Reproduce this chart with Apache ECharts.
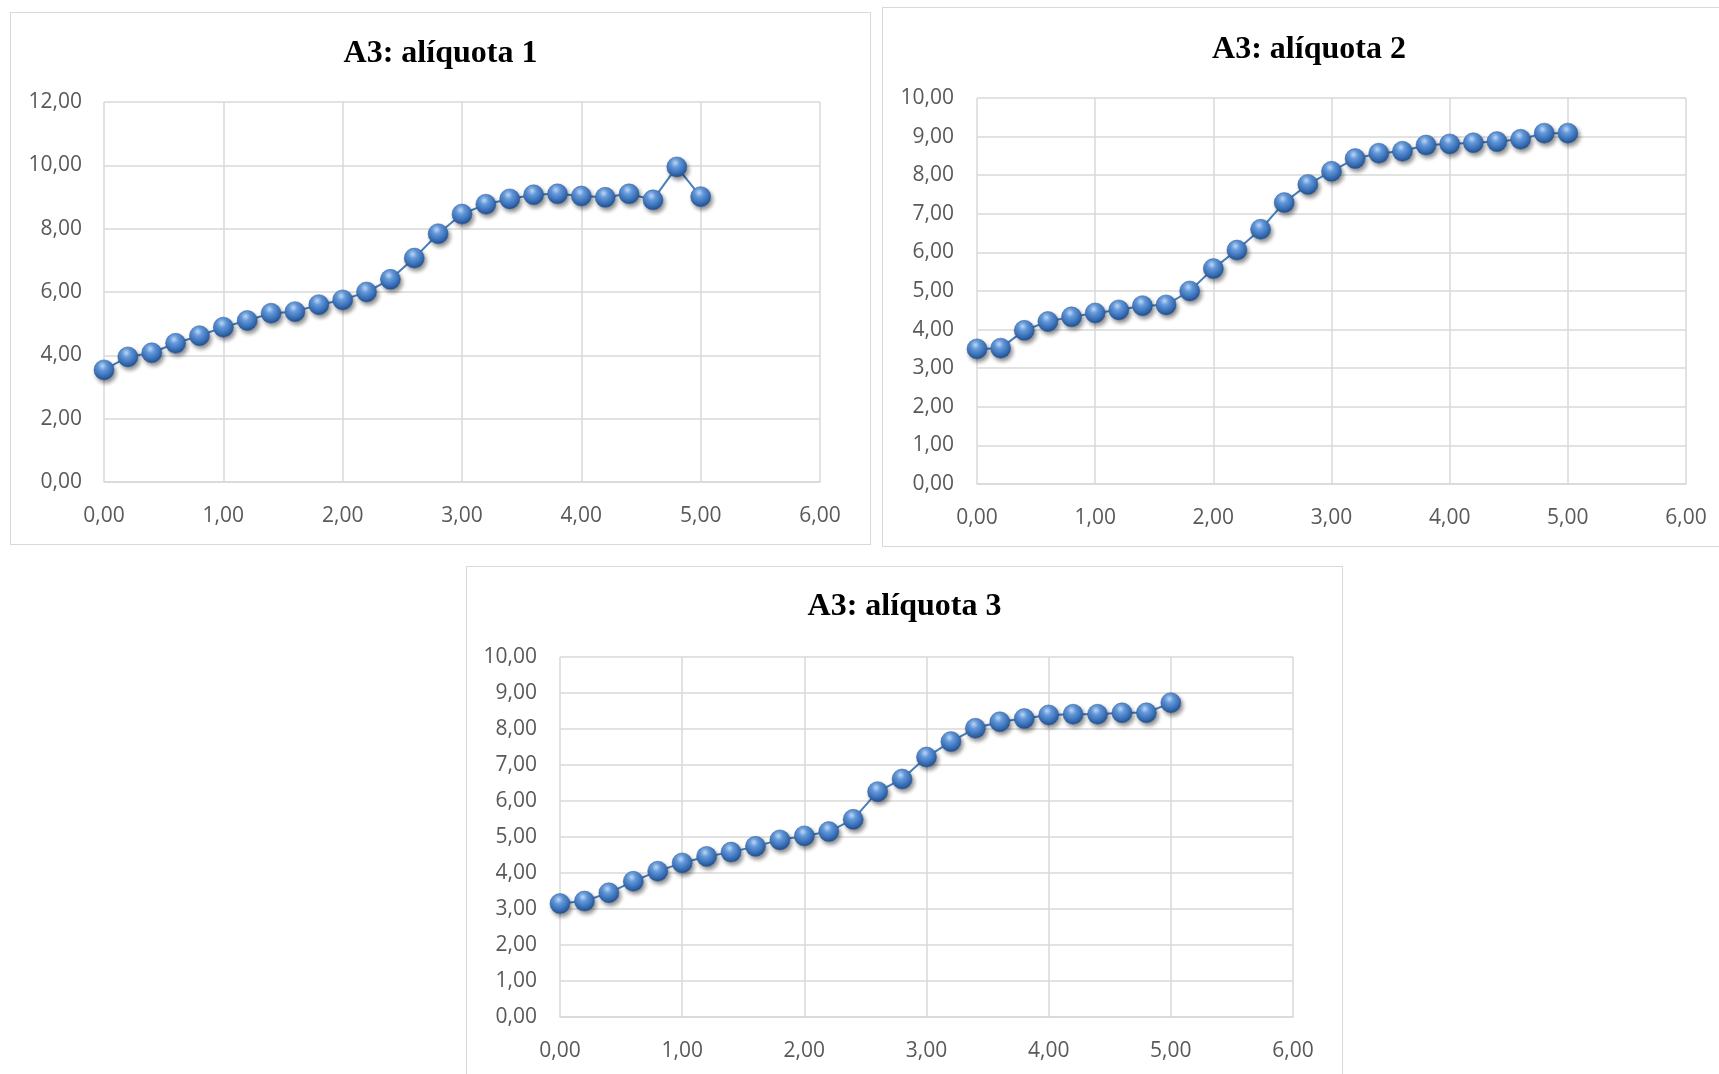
<!DOCTYPE html>
<html>
<head>
<meta charset="utf-8">
<script src="https://cdn.jsdelivr.net/npm/echarts@6/dist/echarts.min.js"></script>
<style>
  html, body { margin: 0; padding: 0; width: 1719px; height: 1074px; overflow: hidden; background: #ffffff; }
  .chart { position: absolute; }
  .frame { position: absolute; box-sizing: border-box; border: 1.5px solid #d9d9d9; pointer-events: none; }
</style>
</head>
<body>
<div class="chart" id="c1" style="left:10px;top:12px;width:861px;height:533px;"></div>
<div class="frame" style="left:10px;top:12px;width:861px;height:533px;"></div>
<div class="chart" id="c2" style="left:882px;top:7px;width:854px;height:540px;"></div>
<div class="frame" style="left:882px;top:7px;width:854px;height:540px;"></div>
<div class="chart" id="c3" style="left:466px;top:566px;width:877px;height:520px;"></div>
<div class="frame" style="left:466px;top:566px;width:877px;height:520px;"></div>
<script>
// ---- data ----
const titles = ['A3: alíquota 1', 'A3: alíquota 2', 'A3: alíquota 3'];
const xValues = [0.0, 0.2, 0.4, 0.6, 0.8, 1.0, 1.2, 1.4, 1.6, 1.8, 2.0, 2.2, 2.4,
                 2.6, 2.8, 3.0, 3.2, 3.4, 3.6, 3.8, 4.0, 4.2, 4.4, 4.6, 4.8, 5.0];
const aliquota1 = [3.54, 3.95, 4.08, 4.38, 4.62, 4.89, 5.10, 5.33, 5.38, 5.60, 5.75, 6.00, 6.40,
                   7.07, 7.84, 8.46, 8.77, 8.94, 9.07, 9.10, 9.03, 8.99, 9.10, 8.91, 9.95, 9.01];
const aliquota2 = [3.50, 3.52, 3.98, 4.21, 4.33, 4.43, 4.51, 4.62, 4.64, 5.00, 5.58, 6.06, 6.60,
                   7.29, 7.76, 8.10, 8.43, 8.57, 8.62, 8.78, 8.81, 8.84, 8.87, 8.93, 9.09, 9.09];
const aliquota3 = [3.15, 3.22, 3.45, 3.77, 4.05, 4.28, 4.46, 4.58, 4.74, 4.92, 5.03, 5.15, 5.49,
                   6.26, 6.61, 7.22, 7.65, 8.02, 8.20, 8.29, 8.39, 8.41, 8.41, 8.45, 8.45, 8.73];
const xTicks = { min: 0, max: 6, interval: 1 };
const yTicks1 = { min: 0, max: 12, interval: 2 };
const yTicks23 = { min: 0, max: 10, interval: 1 };

// ---- rendering ----
const fmt = v => v.toFixed(2).replace('.', ',');
const gridColor = '#d9d9d9';
const labelStyle = { color: '#595959', fontSize: 21, fontFamily: 'Open Sans, Liberation Sans, sans-serif' };

function makeOption(title, values, yTicks, grid, yMargin, xMargin) {
  return {
    animation: false,
    title: {
      text: title,
      left: 'center',
      top: grid.titleTop,
      textStyle: { fontFamily: 'Liberation Serif, Times New Roman, serif', fontWeight: 'bold', fontSize: 32, color: '#000000' }
    },
    grid: { left: grid.left, top: grid.top, width: grid.width, height: grid.height, containLabel: false },
    xAxis: {
      type: 'value', min: xTicks.min, max: xTicks.max, interval: xTicks.interval,
      axisLine: { show: true, lineStyle: { color: gridColor, width: 1.5 } },
      axisTick: { show: false },
      axisLabel: { ...labelStyle, margin: xMargin, formatter: fmt },
      splitLine: { show: true, lineStyle: { color: gridColor, width: 1.5 } }
    },
    yAxis: {
      type: 'value', min: yTicks.min, max: yTicks.max, interval: yTicks.interval,
      axisLine: { show: false },
      axisTick: { show: false },
      axisLabel: { ...labelStyle, margin: yMargin, formatter: fmt, padding: [4, 0, 0, 0] },
      splitLine: { show: true, lineStyle: { color: gridColor, width: 1.5 } }
    },
    series: [{
      type: 'line',
      data: xValues.map((x, i) => [x, values[i]]),
      symbol: 'circle',
      symbolSize: 20,
      lineStyle: { color: '#4a7ebb', width: 2 },
      itemStyle: {
        color: new echarts.graphic.RadialGradient(0.42, 0.3, 0.72, [
          { offset: 0, color: '#c4dcf8' },
          { offset: 0.3, color: '#639ade' },
          { offset: 0.78, color: '#3267ad' },
          { offset: 1, color: '#1f4a85' }
        ]),
        borderColor: '#2b5b9c',
        borderWidth: 0.5,
        shadowBlur: 4,
        shadowColor: 'rgba(0,0,0,0.45)',
        shadowOffsetX: 2,
        shadowOffsetY: 3
      }
    }]
  };
}

const c1 = echarts.init(document.getElementById('c1'));
c1.setOption(makeOption(titles[0], aliquota1, yTicks1,
  { left: 94, top: 90, width: 716, height: 380, titleTop: 21 }, 22, 24));
const c2 = echarts.init(document.getElementById('c2'));
c2.setOption(makeOption(titles[1], aliquota2, yTicks23,
  { left: 95, top: 91, width: 709, height: 386, titleTop: 22 }, 23, 24));
const c3 = echarts.init(document.getElementById('c3'));
c3.setOption(makeOption(titles[2], aliquota3, yTicks23,
  { left: 94, top: 91, width: 733, height: 360, titleTop: 20 }, 23, 24));
</script>
</body>
</html>
